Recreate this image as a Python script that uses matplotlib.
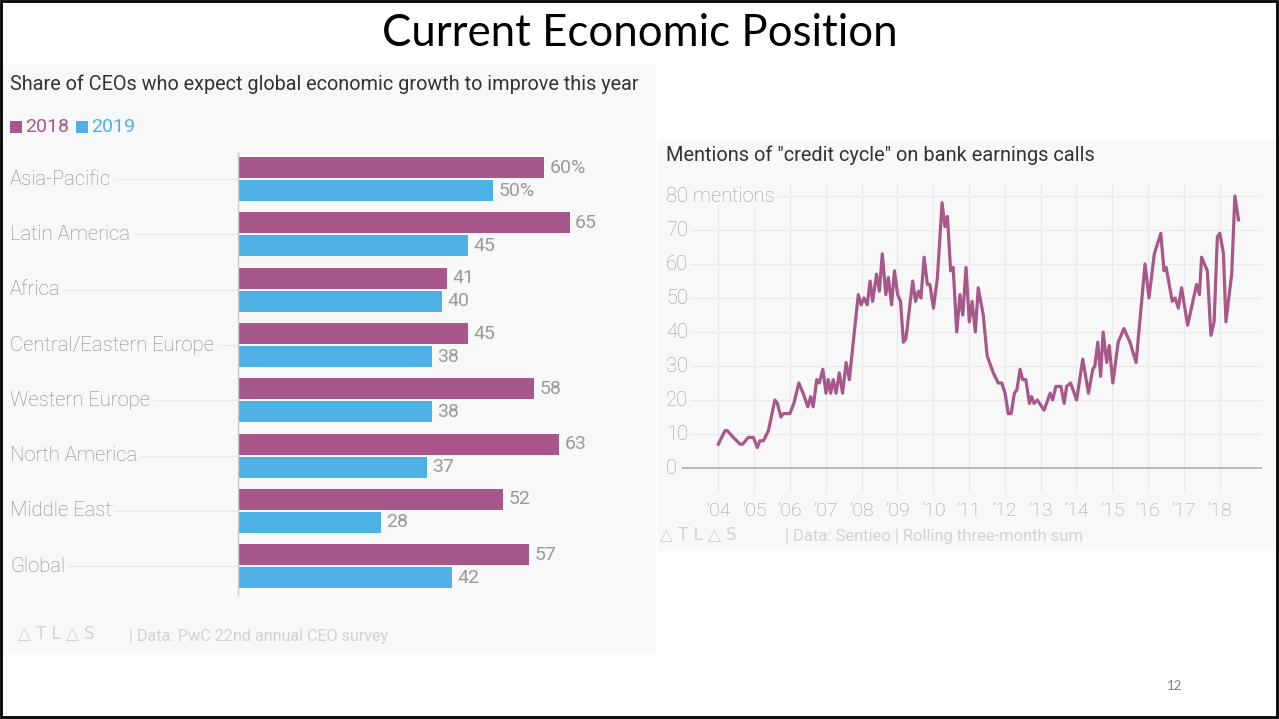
import matplotlib
matplotlib.use("Agg")
import matplotlib.pyplot as plt
from matplotlib.patches import Rectangle
from matplotlib.transforms import blended_transform_factory

# ---------------- data ----------------
title = "Current Economic Position"
bar_title = "Share of CEOs who expect global economic growth to improve this year"
regions = ["Asia-Pacific", "Latin America", "Africa", "Central/Eastern Europe",
           "Western Europe", "North America", "Middle East", "Global"]
share_2018 = [60, 65, 41, 45, 58, 63, 52, 57]
share_2019 = [50, 45, 40, 38, 38, 37, 28, 42]
series_names = ["2018", "2019"]

line_title = 'Mentions of "credit cycle" on bank earnings calls'
years = [2004.00, 2004.19, 2004.25, 2004.42, 2004.61, 2004.68, 2004.84, 2004.98,
         2005.09, 2005.16, 2005.26, 2005.40, 2005.58, 2005.65, 2005.75, 2005.82,
         2006.00, 2006.11, 2006.25, 2006.37, 2006.50, 2006.58, 2006.65, 2006.75,
         2006.82, 2006.92, 2007.01, 2007.07, 2007.14, 2007.21, 2007.29, 2007.38,
         2007.47, 2007.57, 2007.66, 2007.91, 2007.99, 2008.07, 2008.16, 2008.24,
         2008.31, 2008.42, 2008.50, 2008.58, 2008.68, 2008.75, 2008.84, 2008.92,
         2009.01, 2009.09, 2009.17, 2009.24, 2009.43, 2009.51, 2009.59, 2009.66,
         2009.75, 2009.84, 2009.91, 2010.01, 2010.12, 2010.25, 2010.33, 2010.40,
         2010.49, 2010.56, 2010.66, 2010.75, 2010.83, 2010.92, 2011.01, 2011.09,
         2011.18, 2011.26, 2011.40, 2011.51, 2011.68, 2011.82, 2011.92, 2012.01,
         2012.10, 2012.18, 2012.27, 2012.34, 2012.43, 2012.50, 2012.59, 2012.69,
         2012.75, 2012.82, 2012.91, 2013.10, 2013.27, 2013.34, 2013.43, 2013.57,
         2013.66, 2013.73, 2013.84, 2014.01, 2014.18, 2014.34, 2014.46, 2014.52,
         2014.60, 2014.68, 2014.75, 2014.85, 2014.92, 2015.02, 2015.17, 2015.33,
         2015.50, 2015.67, 2015.92, 2016.03, 2016.18, 2016.36, 2016.45, 2016.51,
         2016.68, 2016.76, 2016.85, 2016.94, 2017.11, 2017.36, 2017.44, 2017.50,
         2017.66, 2017.76, 2017.85, 2017.94, 2018.01, 2018.11, 2018.18, 2018.34,
         2018.43, 2018.53]
mentions = [7, 11, 11, 9, 7, 7, 9, 9,
            6, 8, 8, 11, 20, 19, 15, 16,
            16, 19, 25, 22, 18, 21, 18, 26,
            25, 29, 22, 26, 22, 26, 22, 28,
            22, 31, 26, 51, 48, 50, 48, 55,
            49, 57, 52, 63, 51, 56, 48, 58,
            51, 49, 37, 38, 55, 49, 52, 50,
            62, 54, 54, 47, 56, 78, 71, 74,
            58, 59, 40, 51, 45, 59, 43, 49,
            40, 53, 45, 33, 28, 25, 25, 22,
            16, 16, 22, 23, 29, 26, 26, 19,
            21, 19, 20, 17, 22, 20, 24, 24,
            19, 24, 25, 20, 32, 22, 29, 30,
            37, 27, 40, 31, 36, 25, 37, 41,
            37, 31, 60, 50, 63, 69, 58, 59,
            49, 50, 47, 53, 42, 54, 51, 62,
            58, 39, 43, 68, 69, 63, 43, 57,
            80, 73]
year_ticks = list(range(2004, 2019))
year_labels = ["\u2019" + str(y)[2:] for y in year_ticks]
y_ticks = [0, 10, 20, 30, 40, 50, 60, 70, 80]
y_labels = ["0", "10", "20", "30", "40", "50", "60", "70", "80 mentions"]

# ---------------- style ----------------
W, H = 1279, 719
PURPLE = "#a8578a"
BLUE = "#4eb1e5"
BG = "#f8f8f8"
GRID = "#e9e9e9"
TXT_DARK = "#333333"
TXT_GREY = "#9a9a9a"
TXT_FOOT = "#d2d2d2"
FONT = ["Roboto", "DejaVu Sans"]

def fx(x):
    return x / W

def fy(y):
    return 1 - y / H

fig = plt.figure(figsize=(W / 100, H / 100), dpi=100)
fig.patch.set_facecolor("white")

# panels
fig.add_artist(Rectangle((fx(3), fy(655)), fx(656) - fx(3), fy(64) - fy(655),
                         transform=fig.transFigure, facecolor=BG, edgecolor="none", zorder=0))
fig.add_artist(Rectangle((fx(658), fy(551)), fx(1276) - fx(658), fy(140) - fy(551),
                         transform=fig.transFigure, facecolor=BG, edgecolor="none", zorder=0))
# slide frame
fig.add_artist(Rectangle((fx(1), fy(717)), fx(1277) - fx(1), fy(1) - fy(717),
                         transform=fig.transFigure, facecolor="none", edgecolor="black",
                         lw=2, zorder=10))

fig.text(0.5, fy(34), title, ha="center", va="center", fontsize=31.5,
         family=["Lato", "DejaVu Sans"], color="black")
fig.text(fx(1182), fy(686), "12", ha="right", va="center", fontsize=9.5,
         family=["Lato", "DejaVu Sans"], color="#808080")

# ---------------- left: bar chart ----------------
fig.text(fx(10), fy(84), bar_title, ha="left", va="center", fontsize=14.3,
         family=FONT, color=TXT_DARK)
# legend
fig.add_artist(Rectangle((fx(10), fy(133)), fx(12), fy(121) - fy(133),
                         transform=fig.transFigure, facecolor=PURPLE, edgecolor="none"))
fig.text(fx(25), fy(127), series_names[0], ha="left", va="center", fontsize=14,
         family=FONT, color=PURPLE)
fig.add_artist(Rectangle((fx(76), fy(133)), fx(12), fy(121) - fy(133),
                         transform=fig.transFigure, facecolor=BLUE, edgecolor="none"))
fig.text(fx(91), fy(127), series_names[1], ha="left", va="center", fontsize=14,
         family=FONT, color=BLUE)

ax = fig.add_axes([fx(238), fy(595), fx(646) - fx(238), fy(152) - fy(595)])
ax.set_facecolor("none")
ax.set_xlim(0, 80)
ax.set_ylim(7.52, -0.49)
pos = list(range(len(regions)))
bh = 0.38
off = 0.208
ax.barh([p - off for p in pos], share_2018, height=bh, color=PURPLE, zorder=2)
ax.barh([p + off for p in pos], share_2019, height=bh, color=BLUE, zorder=2)
for i, (a, b) in enumerate(zip(share_2018, share_2019)):
    la = f"{a}%" if i == 0 else str(a)
    lb = f"{b}%" if i == 0 else str(b)
    ax.annotate(la, (a, i - off), xytext=(4, 0), textcoords="offset points",
                va="center", ha="left", fontsize=14, family=FONT, color=TXT_GREY)
    ax.annotate(lb, (b, i + off), xytext=(4, 0), textcoords="offset points",
                va="center", ha="left", fontsize=14, family=FONT, color=TXT_GREY)
for s in ["top", "right", "bottom"]:
    ax.spines[s].set_visible(False)
ax.spines["left"].set_color("#cccccc")
ax.spines["left"].set_linewidth(1)
ax.set_xticks([])
ax.set_yticks([])
tr = blended_transform_factory(fig.transFigure, ax.transData)
for i, r in enumerate(regions):
    ax.plot([fx(10), fx(237)], [i, i], transform=tr, color=GRID, lw=0.9,
            clip_on=False, zorder=0)
    ax.text(fx(10), i, r, transform=tr, ha="left", va="center", fontsize=14.6,
            family=FONT, color="#868686", fontweight="light",
            bbox=dict(facecolor=BG, edgecolor="none", pad=2), zorder=1)

fig.text(fx(18), fy(634), "\u25b3 T L \u25b3 S", ha="left", va="center", fontsize=12,
         family=["DejaVu Sans"], color=TXT_FOOT)
fig.text(fx(129), fy(636), "| Data: PwC 22nd annual CEO survey", ha="left", va="center",
         fontsize=11.6, family=FONT, color=TXT_FOOT)

# ---------------- right: line chart ----------------
fig.text(fx(666), fy(155), line_title, ha="left", va="center", fontsize=14.4,
         family=FONT, color=TXT_DARK)
ax2 = fig.add_axes([fx(682), fy(493), fx(1262) - fx(682), fy(183) - fy(493)])
ax2.set_facecolor("none")
x0 = 2004 + (682 - 718.3) / 35.8
x1 = 2004 + (1262 - 718.3) / 35.8
ax2.set_xlim(x0, x1)
ax2.set_ylim((468 - 493) / 3.4, (468 - 183) / 3.4)
for s in ax2.spines.values():
    s.set_visible(False)
ax2.set_xticks([])
ax2.set_yticks([])
for yr in year_ticks:
    ax2.axvline(yr, color=GRID, lw=0.9, zorder=0)
for v in y_ticks[1:]:
    ax2.axhline(v, color=GRID, lw=0.9, zorder=0)
ax2.axhline(0, color="#a8a8a8", lw=1.1, zorder=1)
ax2.plot(years, mentions, color=PURPLE, lw=2.3, solid_joinstyle="round", zorder=3)
tr2y = blended_transform_factory(fig.transFigure, ax2.transData)
for v, lab in zip(y_ticks, y_labels):
    ax2.text(fx(666), v, lab, transform=tr2y, ha="left", va="center", fontsize=14.5,
             family=FONT, color=TXT_GREY, fontweight="light",
             bbox=dict(facecolor=BG, edgecolor="none", pad=2), zorder=2, clip_on=False)
tr2x = blended_transform_factory(ax2.transData, fig.transFigure)
for yr, lab in zip(year_ticks, year_labels):
    ax2.text(yr, fy(511), lab, transform=tr2x, ha="center", va="center", fontsize=14,
             family=FONT, color=TXT_GREY, fontweight="light", clip_on=False)

fig.text(fx(660), fy(535), "\u25b3 T L \u25b3 S", ha="left", va="center", fontsize=12,
         family=["DejaVu Sans"], color=TXT_FOOT)
fig.text(fx(785), fy(536), "| Data: Sentieo | Rolling three-month sum", ha="left",
         va="center", fontsize=11.9, family=FONT, color=TXT_FOOT)

fig.savefig("out.png", dpi=100, facecolor="white")
